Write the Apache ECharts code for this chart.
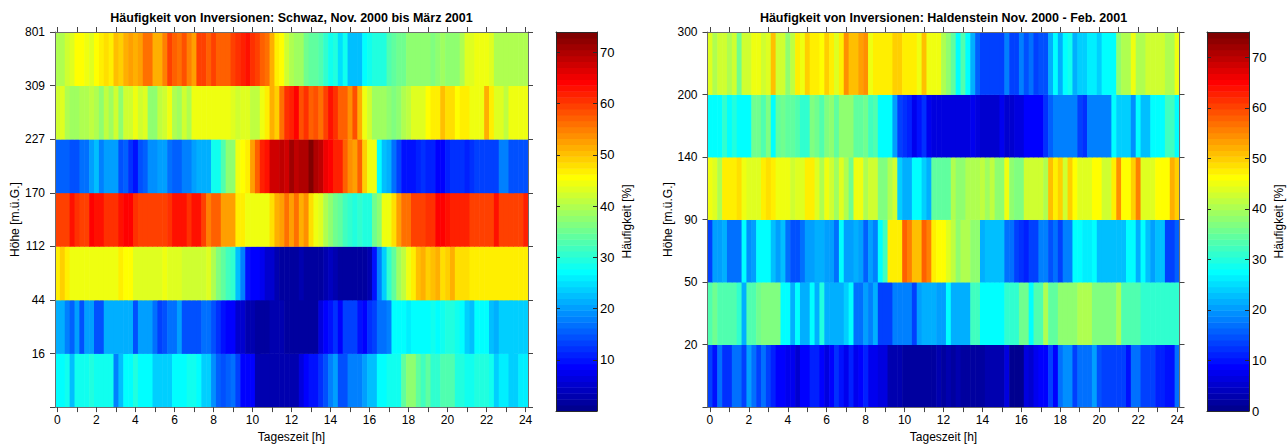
<!DOCTYPE html>
<html>
<head>
<meta charset="utf-8">
<script src="https://cdn.jsdelivr.net/npm/echarts@6/dist/echarts.min.js"></script>
<style>
  html, body { margin: 0; padding: 0; background: #fff; }
  #chart { width: 1288px; height: 448px; }
</style>
</head>
<body>
<div id="chart"></div>
<script>
const FONT = '"Liberation Sans", Arial, Helvetica, sans-serif';

// 15-minute slots from 0:00 to 24:00 (bin centres, hours)
const timeSlots = Array.from({ length: 97 }, (_, k) => k / 4);
const hourTicks = Array.from({ length: 25 }, (_, h) => h);
const hourLabels = hourTicks.filter(h => h % 2 === 0);

// Height band boundaries [m above ground], bottom to top
const schwazHeights = ['16', '44', '112', '170', '227', '309', '801'];
const haldenHeights = ['20', '50', '90', '140', '200', '300'];

// Colour scale limits and colour bar ticks [%]
const schwazRange = [0, 74];
const haldenRange = [0, 75];
const schwazBarTicks = [10, 20, 30, 40, 50, 60, 70];
const haldenBarTicks = [0, 10, 20, 30, 40, 50, 60, 70];

// Schwaz: inversion frequency [%] per 15-min slot, lowest band first
const schwazBand1 = [27,27,28,22,28,28,28,29,28,28, 28,28,18,22,27,27,29,27,27,27, 24,24,24,24,27,27,27,28,28,27,
  24,24,19,16,14,16,17,13,9,9, 9,3,3,3,3,3,3,3,3,3, 6,9,10,10,12,14,18,20,15,15, 18,18,18,20,22,23,27,27,28,28,
  28,34,37,38,34,32,34,31,31,33, 33,33,29,29,28,28,29,29,29,28, 24,26,26,24,24,26,26];
const schwazBand2 = [21,21,18,16,20,15,20,20,14,14, 21,21,21,21,21,21,15,20,20,20, 17,13,14,17,17,20,15,15,15,15,
  17,17,15,12,10,9,9,5,5,3, 3,2,2,2,3,3,3,2,2,2, 2,2,2,2,6,9,10,12,9,13, 13,13,10,9,12,13,17,17,18,27,
  27,27,26,27,27,27,27,28,27,28, 30,30,28,27,24,23,27,27,27,22, 21,24,24,24,24,24,24];
const schwazBand3 = [47,49,47,45,44,44,44,44,45,45, 45,45,45,47,46,46,43,43,43,43, 43,43,44,43,43,43,42,42,42,42,
  42,43,40,36,34,32,31,23,18,10, 9,9,7,5,5,3,2,2,2,2, 3,2,2,2,2,3,4,3,2,2, 2,2,2,2,3,10,18,24,31,34,
  39,41,45,47,50,51,49,50,51,48, 49,52,48,48,48,47,47,47,47,47, 47,47,47,47,47,47,47];
const schwazBand4 = [60,60,60,63,61,60,60,64,63,63, 61,61,61,63,64,64,61,60,60,60, 60,60,60,61,63,63,63,61,63,63,
  59,55,57,57,53,53,53,47,47,45, 45,45,45,45,48,51,53,56,53,56, 52,54,48,45,43,40,38,35,34,32, 31,29,31,30,30,35,38,44,45,48,
  53,56,56,59,59,60,61,61,64,64, 63,62,62,62,62,60,59,59,60,60, 63,59,59,59,59,60,62];
const schwazBand5 = [16,16,16,15,15,17,17,20,22,18, 20,20,20,15,16,12,10,14,16,19, 19,20,20,17,16,16,18,18,20,21,
  21,21,28,28,33,37,38,44,46,47, 53,57,62,63,68,68,69,68,71,69, 70,70,73,70,69,65,64,62,62,57, 54,53,57,49,45,45,27,22,21,17,
  13,10,10,10,11,12,11,11,9,9, 11,12,12,12,11,12,13,13,13,13, 13,18,18,15,15,15,15];
const schwazBand6 = [42,43,40,39,39,40,40,41,40,38, 41,39,42,38,42,42,44,42,43,38, 37,41,42,44,40,39,42,40,44,45,
  45,45,45,44,44,44,43,42,43,43, 41,41,45,47,51,49,56,61,62,64, 58,61,57,58,56,60,63,61,57,57, 54,58,52,45,42,39,39,39,37,36,
  38,40,41,43,43,43,46,47,47,50, 48,48,46,47,47,45,45,45,51,47, 43,43,41,44,44,44,44];
const schwazBand7 = [40,40,42,43,46,46,44,43,46,47, 48,47,50,49,52,53,51,53,56,56, 52,51,55,59,57,56,58,55,53,59,
  59,57,59,57,57,57,59,61,62,63, 61,60,57,56,51,47,46,42,40,39, 39,35,34,34,33,31,28,29,25,28, 22,22,22,27,28,29,29,30,33,34,
  35,35,37,37,38,38,37,36,38,39, 37,37,38,40,43,43,44,45,45,43, 40,40,40,40,40,40,40];

// Haldenstein: inversion frequency [%] per 15-min slot, lowest band first
const haldenBand1 = [13,10,17,12,12,17,17,14,20,17, 14,17,14,11,9,9,8,8,5,9, 9,11,11,9,6,9,12,10,8,11,
  8,9,11,8,8,7,7,3,3,3, 2,2,2,2,2,2,2,3,2,3, 2,3,2,2,2,2,2,3,3,3, 3,7,1,1,1,7,5,8,9,9,
  14,9,17,19,19,14,17,17,17,20, 15,14,14,14,14,14,10,17,17,13, 13,13,11,11,10,10,17];
const haldenBand2 = [33,36,33,33,33,33,31,22,33,33, 36,37,37,37,37,27,28,22,28,22, 22,28,22,30,22,22,22,22,24,28,
  17,17,20,18,22,14,13,13,18,18, 18,18,14,20,22,22,22,20,20,28, 22,22,22,22,32,32,28,28,28,27, 27,31,31,31,36,36,28,33,33,40,
  34,34,38,38,38,38,40,40,40,37, 37,37,37,37,41,33,33,33,33,31, 31,31,31,31,31,31,31];
const haldenBand3 = [13,21,21,22,17,17,17,28,19,21, 27,27,27,23,21,23,17,15,15,17, 21,21,22,22,21,21,17,28,21,21,
  22,21,16,21,18,27,32,47,47,48, 58,56,51,51,58,56,47,46,46,44, 42,38,40,40,38,38,22,23,23,23, 23,17,17,13,12,11,14,14,18,18,
  15,17,14,18,18,28,28,26,26,28, 23,23,23,23,23,23,28,28,22,27, 23,21,23,23,14,14,16];
const haldenBand4 = [45,44,40,47,47,47,49,45,44,44, 44,47,49,47,45,45,45,43,44,44, 47,47,44,40,45,43,39,44,40,36,
  45,45,40,43,43,37,37,40,43,24, 22,22,27,27,24,22,34,34,35,35, 40,38,38,40,40,40,42,39,42,38, 38,45,38,37,37,43,43,43,43,40,
  51,47,50,43,50,46,44,44,44,46, 46,43,43,47,54,46,46,50,56,44, 44,44,46,46,46,52,50];
const haldenBand5 = [28,28,28,31,28,30,28,28,28,36, 36,33,37,28,34,36,34,34,33,31, 31,37,36,33,37,38,34,38,38,38,
  34,34,36,32,33,28,28,27,21,13, 12,11,8,10,12,8,7,7,7,7, 7,6,6,6,8,6,5,5,5,5, 8,5,5,6,6,9,9,9,9,12,
  16,18,18,18,18,18,14,12,18,18, 18,18,18,27,24,24,24,19,28,23, 23,27,27,28,32,32,28];
const haldenBand6 = [44,40,43,43,40,43,36,43,43,45, 45,43,44,51,43,43,38,42,47,45, 50,47,47,46,50,47,44,47,54,51,
  51,53,55,45,47,47,47,47,50,50, 47,47,48,45,51,45,45,45,40,38, 34,28,33,28,22,16,14,14,14,14, 14,18,14,13,18,15,17,14,15,15,
  22,27,22,28,29,22,24,24,26,26, 24,28,27,27,38,40,40,45,40,41, 43,43,43,43,40,40,45];

const schwazBands = [schwazBand1, schwazBand2, schwazBand3, schwazBand4, schwazBand5, schwazBand6, schwazBand7];
const haldenBands = [haldenBand1, haldenBand2, haldenBand3, haldenBand4, haldenBand5, haldenBand6];

// MATLAB-style "jet" colour map with m entries
function jet(m) {
  const n = Math.ceil(m / 4);
  const u = [];
  for (let i = 1; i <= n; i++) u.push(i / n);
  for (let i = 1; i < n; i++) u.push(1);
  for (let i = n; i >= 1; i--) u.push(i / n);
  const off = Math.ceil(n / 2) - (m % 4 === 1 ? 1 : 0);
  const J = Array.from({ length: m }, () => [0, 0, 0]);
  for (let i = 0; i < u.length; i++) {
    const g = off + i + 1;
    const r = g + n;
    const b = g - n;
    if (g >= 1 && g <= m) J[g - 1][1] = u[i];
    if (r >= 1 && r <= m) J[r - 1][0] = u[i];
    if (b >= 1 && b <= m) J[b - 1][2] = u[i];
  }
  return J.map(c => 'rgb(' + c.map(x => Math.round(x * 255)).join(',') + ')');
}
const JET = jet(64);

function colorOf(v, range) {
  let i = Math.floor((v - range[0]) / (range[1] - range[0]) * JET.length);
  i = Math.max(0, Math.min(JET.length - 1, i));
  return JET[i];
}

function cellData(bands) {
  const out = [];
  bands.forEach((row, r) => row.forEach((v, k) => out.push([timeSlots[k], r, v])));
  return out;
}

function heatSeries(xi, yi, bands, range) {
  return {
    type: 'custom',
    xAxisIndex: xi,
    yAxisIndex: yi,
    data: cellData(bands),
    encode: { x: 0, y: 1 },
    silent: true,
    renderItem(params, api) {
      const t = api.value(0), r = api.value(1), v = api.value(2);
      const a = api.coord([t - 0.125, r + 1]);
      const b = api.coord([t + 0.125, r]);
      return {
        type: 'rect',
        shape: { x: a[0], y: a[1], width: b[0] - a[0] + 0.6, height: b[1] - a[1] + 0.4 },
        style: { fill: colorOf(v, range) }
      };
    }
  };
}

function colorbarSeries(xi, yi, range) {
  const step = (range[1] - range[0]) / JET.length;
  return {
    type: 'custom',
    xAxisIndex: xi,
    yAxisIndex: yi,
    data: JET.map((c, i) => [0.5, range[0] + (i + 0.5) * step, i]),
    encode: { x: 0, y: 1 },
    silent: true,
    renderItem(params, api) {
      const i = api.value(2);
      const a = api.coord([0, range[0] + (i + 1) * step]);
      const b = api.coord([1, range[0] + i * step]);
      return {
        type: 'rect',
        shape: { x: a[0], y: a[1], width: b[0] - a[0], height: b[1] - a[1] + 0.5 },
        style: { fill: JET[i] }
      };
    }
  };
}

const FRAME = '#6e6e6e';
const BAR_FRAME = '#2a2a2a';
const textStyle = { fontFamily: FONT, fontSize: 12, color: '#000' };
const barTextStyle = { fontFamily: FONT, fontSize: 13, color: '#000' };

function line(color) { return { show: true, onZero: false, lineStyle: { color: color, width: 1 } }; }

// time axes (bottom carries labels, top only mirrors ticks)
function timeAxis(grid, pos, withLabels) {
  return {
    gridIndex: grid, type: 'value', position: pos,
    min: -0.125, max: 24.125, z: 10,
    axisLine: line(FRAME),
    axisTick: { show: true, customValues: hourTicks, length: 5, lineStyle: { color: '#444' } },
    axisLabel: withLabels
      ? Object.assign({ show: true, customValues: hourLabels, margin: 7 }, textStyle)
      : { show: false },
    splitLine: { show: false },
    name: withLabels ? 'Tageszeit [h]' : '',
    nameLocation: 'middle', nameGap: 22,
    nameTextStyle: textStyle
  };
}

function heightAxis(grid, pos, labels, withLabels) {
  return {
    gridIndex: grid, type: 'value', position: pos,
    min: 0, max: labels.length, interval: 1, z: 10,
    axisLine: line(FRAME),
    axisTick: { show: true, length: 5, lineStyle: { color: '#444' } },
    axisLabel: withLabels
      ? Object.assign({ show: true, margin: 10, formatter: v => (v >= 1 ? labels[v - 1] : '') }, textStyle)
      : { show: false },
    splitLine: { show: false },
    name: withLabels ? 'Höhe [m.ü.G.]' : '',
    nameLocation: 'middle', nameRotate: 90, nameGap: 34,
    nameTextStyle: textStyle
  };
}

function barFrameX(grid, pos) {
  return {
    gridIndex: grid, type: 'value', position: pos, min: 0, max: 1, z: 10,
    axisLine: line(BAR_FRAME), axisTick: { show: false }, axisLabel: { show: false }, splitLine: { show: false }
  };
}

function barAxis(grid, pos, range, ticks, withLabels) {
  return {
    gridIndex: grid, type: 'value', position: pos,
    min: range[0], max: range[1], z: 10,
    axisLine: line(BAR_FRAME),
    axisTick: { show: true, inside: true, length: 4, customValues: ticks, lineStyle: { color: BAR_FRAME } },
    axisLabel: withLabels
      ? Object.assign({ show: true, customValues: ticks, margin: 3 }, barTextStyle)
      : { show: false },
    splitLine: { show: false },
    name: withLabels ? 'Häufigkeit [%]' : '',
    nameLocation: 'middle', nameRotate: 90, nameGap: 24,
    nameTextStyle: textStyle
  };
}

const titleStyle = { fontFamily: FONT, fontSize: 12.5, fontWeight: 'bold', fill: '#000', align: 'center', verticalAlign: 'middle' };

const option = {
  animation: false,
  backgroundColor: '#fff',
  graphic: [
    { type: 'text', x: 291.5, y: 17.5, silent: true,
      style: Object.assign({ text: 'Häufigkeit von Inversionen: Schwaz, Nov. 2000 bis März 2001' }, titleStyle) },
    { type: 'text', x: 943.5, y: 17.5, silent: true,
      style: Object.assign({ text: 'Häufigkeit von Inversionen: Haldenstein Nov. 2000 - Feb. 2001' }, titleStyle) }
  ],
  grid: [
    { left: 55, top: 32, width: 473, height: 379 },
    { left: 556, top: 32, width: 41, height: 379 },
    { left: 707.5, top: 32, width: 472, height: 379 },
    { left: 1207, top: 32, width: 42, height: 379 }
  ],
  xAxis: [
    timeAxis(0, 'bottom', true),
    timeAxis(0, 'top', false),
    barFrameX(1, 'bottom'),
    barFrameX(1, 'top'),
    timeAxis(2, 'bottom', true),
    timeAxis(2, 'top', false),
    barFrameX(3, 'bottom'),
    barFrameX(3, 'top')
  ],
  yAxis: [
    heightAxis(0, 'left', schwazHeights, true),
    heightAxis(0, 'right', schwazHeights, false),
    barAxis(1, 'right', schwazRange, schwazBarTicks, true),
    barAxis(1, 'left', schwazRange, schwazBarTicks, false),
    heightAxis(2, 'left', haldenHeights, true),
    heightAxis(2, 'right', haldenHeights, false),
    barAxis(3, 'right', haldenRange, haldenBarTicks, true),
    barAxis(3, 'left', haldenRange, haldenBarTicks, false)
  ],
  series: [
    heatSeries(0, 0, schwazBands, schwazRange),
    colorbarSeries(2, 2, schwazRange),
    heatSeries(4, 4, haldenBands, haldenRange),
    colorbarSeries(6, 6, haldenRange)
  ]
};

const chart = echarts.init(document.getElementById('chart'), null, { renderer: 'svg' });
chart.setOption(option);
</script>
</body>
</html>
